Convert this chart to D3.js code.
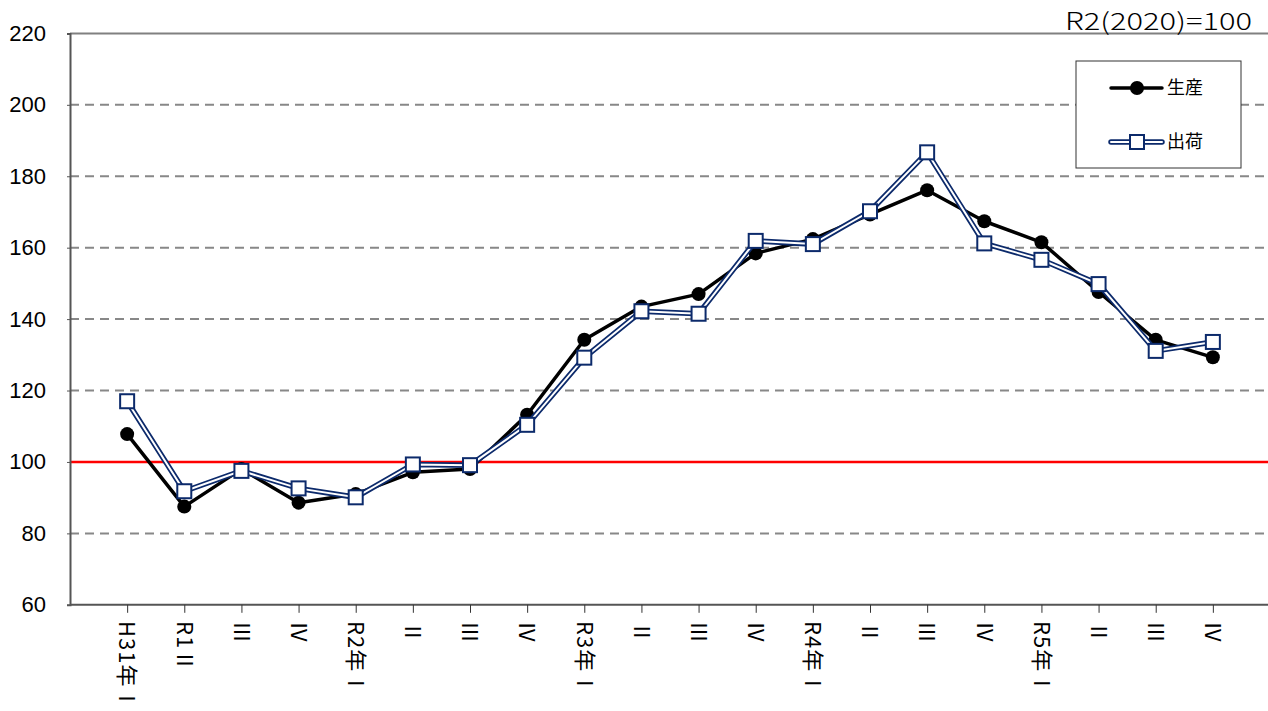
<!DOCTYPE html>
<html>
<head>
<meta charset="utf-8">
<script src="https://cdn.jsdelivr.net/npm/d3@7"></script>
<style>
  body { margin: 0; background: #fff; }
  svg { display: block; }
</style>
</head>
<body>
<script>
// quarter labels
var categories = ["H31年Ⅰ", "R1Ⅱ", "Ⅲ", "Ⅳ", "R2年Ⅰ", "Ⅱ", "Ⅲ", "Ⅳ",
  "R3年Ⅰ", "Ⅱ", "Ⅲ", "Ⅳ", "R4年Ⅰ", "Ⅱ", "Ⅲ", "Ⅳ", "R5年Ⅰ", "Ⅱ", "Ⅲ", "Ⅳ"];

// 生産 (production index)
var production = [107.8, 87.5, 98.0, 88.6, 91.0, 97.1, 98.0, 113.2,
  134.2, 143.5, 147.0, 158.4, 162.4, 169.3, 176.1, 167.4, 161.5, 147.6, 134.2, 129.3];

// 出荷 (shipments index)
var shipments = [117.0, 91.8, 97.5, 92.6, 90.1, 99.3, 99.1, 110.4,
  129.2, 142.2, 141.5, 161.9, 161.0, 170.2, 186.7, 161.2, 156.6, 149.8, 131.1, 133.6];

var yTicks = [60, 80, 100, 120, 140, 160, 180, 200, 220];
var baseValue = 100;
var seriesNames = ["生産", "出荷"];
var noteText = "R2(2020)=100";

var svgWidth = 1268;
var svgHeight = 711;

var plotLeft = 70, plotRight = 1268, plotTop = 33.4, plotBottom = 604.8;
var navy = "#0c2a6b";

var svg = d3.select("body")
  .append("svg")
  .attr("width", svgWidth)
  .attr("height", svgHeight);

var x = d3.scalePoint()
  .domain(d3.range(categories.length))
  .range([plotLeft, plotLeft + 1200])
  .padding(1);

var y = d3.scaleLinear()
  .domain([60, 220])
  .range([plotBottom, plotTop]);

// dashed gridlines
svg.append("g")
  .selectAll("line")
  .data(yTicks.filter(function(d) { return d > 60 && d < 220 && d !== baseValue; }))
  .enter().append("line")
  .attr("x1", plotLeft)
  .attr("x2", plotRight)
  .attr("y1", function(d) { return y(d); })
  .attr("y2", function(d) { return y(d); })
  .attr("stroke", "#888")
  .attr("stroke-width", 2)
  .attr("stroke-dasharray", "9,6");

// top border
svg.append("line")
  .attr("x1", plotLeft).attr("x2", plotRight)
  .attr("y1", y(220)).attr("y2", y(220))
  .attr("stroke", "#808080")
  .attr("stroke-width", 2);

// red base line at 100
svg.append("line")
  .attr("x1", plotLeft).attr("x2", plotRight)
  .attr("y1", y(baseValue)).attr("y2", y(baseValue))
  .attr("stroke", "#ff0000")
  .attr("stroke-width", 2.5);

// y axis
var leftAxis = d3.axisLeft(y)
  .tickValues(yTicks)
  .tickSize(3)
  .tickPadding(21);

var yAxis = svg.append("g")
  .attr("transform", "translate(" + plotLeft + ",0)")
  .call(leftAxis);
yAxis.select(".domain").attr("stroke", "#555").attr("stroke-width", 2);
yAxis.selectAll(".tick line").attr("stroke", "#555");
yAxis.selectAll("text")
  .attr("font-family", "'Liberation Sans', Arial, sans-serif")
  .attr("font-size", 22)
  .attr("fill", "#000");

// x axis
var bottomAxis = d3.axisBottom(x)
  .tickSizeInner(8)
  .tickSizeOuter(0)
  .tickFormat("");

var xAxis = svg.append("g")
  .attr("transform", "translate(0," + plotBottom + ")")
  .call(bottomAxis);
xAxis.select(".domain")
  .attr("d", "M" + plotLeft + ",0H" + plotRight)
  .attr("stroke", "#555").attr("stroke-width", 2);
xAxis.selectAll(".tick line").attr("stroke", "#333");

// rotated category labels
svg.append("g")
  .selectAll("text")
  .data(categories)
  .enter().append("text")
  .attr("transform", function(d, i) { return "translate(" + x(i) + "," + 621 + ") rotate(90)"; })
  .attr("dy", "0.35em")
  .attr("font-family", "'Noto Sans CJK JP', sans-serif")
  .attr("font-size", 22)
  .attr("letter-spacing", 1)
  .attr("fill", "#000")
  .text(function(d) { return d; });

// lines
var line = d3.line()
  .x(function(d, i) { return x(i); })
  .y(function(d) { return y(d); });

svg.append("path")
  .datum(production)
  .attr("d", line)
  .attr("fill", "none")
  .attr("stroke", "#000")
  .attr("stroke-width", 3.5)
  .attr("stroke-linejoin", "round");

svg.selectAll(".prod")
  .data(production)
  .enter().append("circle")
  .attr("class", "prod")
  .attr("cx", function(d, i) { return x(i); })
  .attr("cy", function(d) { return y(d); })
  .attr("r", 7)
  .attr("fill", "#000");

svg.append("path")
  .datum(shipments)
  .attr("d", line)
  .attr("fill", "none")
  .attr("stroke", navy)
  .attr("stroke-width", 5.5)
  .attr("stroke-linejoin", "miter");

svg.append("path")
  .datum(shipments)
  .attr("d", line)
  .attr("fill", "none")
  .attr("stroke", "#fff")
  .attr("stroke-width", 2)
  .attr("stroke-linejoin", "miter");

svg.selectAll(".ship")
  .data(shipments)
  .enter().append("rect")
  .attr("class", "ship")
  .attr("x", function(d, i) { return x(i) - 7; })
  .attr("y", function(d) { return y(d) - 7; })
  .attr("width", 14)
  .attr("height", 14)
  .attr("fill", "#fff")
  .attr("stroke", navy)
  .attr("stroke-width", 2);

// legend
var legend = svg.append("g");
legend.append("rect")
  .attr("x", 1076).attr("y", 61)
  .attr("width", 165).attr("height", 107)
  .attr("fill", "#fff")
  .attr("stroke", "#333")
  .attr("stroke-width", 1);

legend.append("line")
  .attr("x1", 1111).attr("x2", 1162)
  .attr("y1", 88).attr("y2", 88)
  .attr("stroke", "#000").attr("stroke-width", 3.5)
  .attr("stroke-linecap", "round");
legend.append("circle")
  .attr("cx", 1137).attr("cy", 88).attr("r", 7)
  .attr("fill", "#000");

legend.append("line")
  .attr("x1", 1111).attr("x2", 1162)
  .attr("y1", 142).attr("y2", 142)
  .attr("stroke", navy).attr("stroke-width", 5.5)
  .attr("stroke-linecap", "round");
legend.append("line")
  .attr("x1", 1111).attr("x2", 1162)
  .attr("y1", 142).attr("y2", 142)
  .attr("stroke", "#fff").attr("stroke-width", 2)
  .attr("stroke-linecap", "round");
legend.append("rect")
  .attr("x", 1130).attr("y", 135)
  .attr("width", 14).attr("height", 14)
  .attr("fill", "#fff")
  .attr("stroke", navy).attr("stroke-width", 2);

legend.selectAll("text")
  .data(seriesNames)
  .enter().append("text")
  .attr("x", 1167)
  .attr("y", function(d, i) { return i === 0 ? 88 : 142; })
  .attr("dy", "0.35em")
  .attr("font-family", "'Noto Sans CJK JP', sans-serif")
  .attr("font-size", 18)
  .attr("fill", "#000")
  .text(function(d) { return d; });

// base note
svg.append("text")
  .attr("x", 1065)
  .attr("y", 30)
  .attr("textLength", 187)
  .attr("lengthAdjust", "spacingAndGlyphs")
  .attr("font-family", "'Noto Sans CJK JP', sans-serif")
  .attr("font-size", 24)
  .attr("font-weight", 300)
  .attr("fill", "#000")
  .text(noteText);
</script>
</body>
</html>
